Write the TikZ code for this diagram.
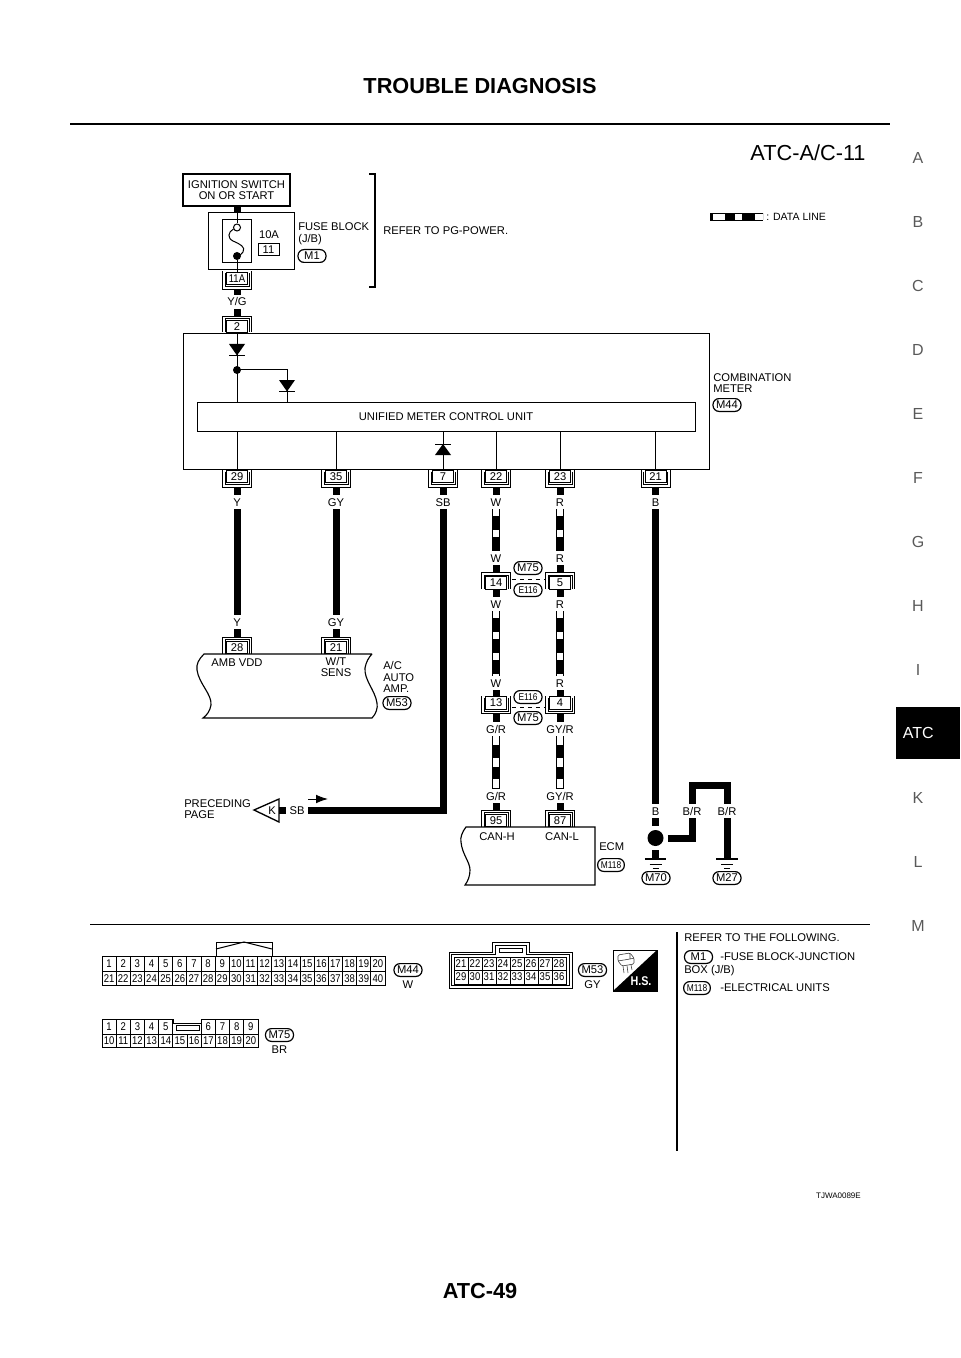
\documentclass[tikz,border=0pt]{standalone}
\usepackage{fontspec}
\setmainfont{Liberation Sans}
\newfontfamily\narrowfont[FakeStretch=.85]{Liberation Sans}
\usepackage{tikz}
\usetikzlibrary{arrows.meta}

\tikzset{
  wirelbl/.style={inner sep=0pt,minimum height=10.5pt,text height=6pt,text depth=0pt,font=\fontsize{8.4}{9}\selectfont},
  txt/.style={inner sep=0pt,align=left,anchor=west,font=\fontsize{8.4}{8.7}\selectfont},
  pinbox/.style={draw,fill=white,line width=.6pt,inner sep=0pt,minimum width=15.75pt,minimum height=9.4pt,font=\fontsize{8.4}{9}\selectfont},
  pill/.style={draw,line width=.9pt,rounded corners=4.5pt,inner sep=0pt,minimum width=21pt,minimum height=9.6pt,font=\fontsize{8.4}{9}\selectfont},
  smallpill/.style={pill,font=\narrowfont\fontsize{7.4}{8}\selectfont},
  wire/.style={line width=.75pt},
  hull/.style={line width=.6pt},
  heavy/.style={line width=5.25pt},
  dataline/.style 2 args={line width=5.25pt,dash pattern=on #1 off #2,dash phase=#1,
    preaction={draw,solid,line width=.75pt,double,double distance=3.9pt}},
  pin/.style={inner sep=0pt,font=\narrowfont\fontsize{8.4}{9}\selectfont},
  sideletter/.style={inner sep=0pt,text=black!65,font=\fontsize{12}{12}\selectfont}
}

% box with bracket open at the top, wire leaves below
\newcommand{\pinup}[4]{
  \node[pinbox] (#1) at (#2,#3) {#4};
  \draw[hull] ([shift={(-14.5,-7)}]#1.center) -- ++(0,17.5) -- ++(29,0) -- ++(0,-17.5);
  \draw[hull] ([shift={(-12,-5)}]#1.center) -- ++(0,13) -- ++(24,0) -- ++(0,-13);
  \coordinate (#1o) at ([yshift=-7.9pt]#1.center);
}
% box with bracket open at the bottom, wire comes in above
\newcommand{\pindn}[4]{
  \node[pinbox] (#1) at (#2,#3) {#4};
  \draw[hull] ([shift={(-14.5,6)}]#1.center) -- ++(0,-16.5) -- ++(29,0) -- ++(0,16.5);
  \draw[hull] ([shift={(-12,6)}]#1.center) -- ++(0,-14) -- ++(24,0) -- ++(0,14);
  \coordinate (#1o) at ([yshift=7.9pt]#1.center);
}

\begin{document}
\begin{tikzpicture}[x=.75pt,y=-.75pt]
\useasboundingbox (0,0) rectangle (960,1358);

% page furniture
\node[inner sep=0pt,font=\bfseries\fontsize{16.3}{17}\selectfont] (title) at (480,86) {TROUBLE DIAGNOSIS};
\coordinate (ruleL) at (70,124);
\coordinate (ruleR) at (890,124);
\draw[line width=1.9pt] (ruleL) -- (ruleR);
\node[inner sep=0pt,font=\bfseries\fontsize{16.3}{17}\selectfont] (pageno) at (480,1291) {ATC-49};
\node[inner sep=0pt,font=\fontsize{16.3}{17}\selectfont] (chartid) at (808,153) {ATC-A/C-11};
\foreach \ltr/\ypos in {A/158,B/222,C/286,D/350,E/414,F/478,G/542,H/606,I/670,K/798,L/862,M/926}
  \node[sideletter] (side\ltr) at (918,\ypos) {\ltr};
\node[fill=black,text=white,inner sep=0pt,minimum width=48pt,minimum height=39pt,font=\fontsize{12}{12}\selectfont] (tab) at (928,733) {\hspace*{-14.5pt}ATC};

% legend
\node[txt,font=\fontsize{7.9}{8}\selectfont] (ldata) at (766,217) {: DATA LINE};
\coordinate (lgA) at (710,217);
\coordinate (lgB) at (763,217);
\draw[line width=.75pt,double,double distance=3.9pt] (lgA) -- (lgB);
\draw[line width=5.25pt,dash pattern=on 2.25pt off 9pt on 7.5pt off 5.25pt on 9.75pt off 6pt] (lgA) -- (lgB);

% fuse block
\node[draw,line width=1pt,align=center,inner sep=0pt,minimum width=80.25pt,minimum height=24pt,font=\fontsize{8.4}{8.7}\selectfont] (ign) at (236.5,190) {IGNITION SWITCH\\ON OR START};
\node[draw,wire,minimum width=64.5pt,minimum height=42.75pt,inner sep=0pt] (fuseblk) at (251,241.5) {};
\node[draw,wire,minimum width=21.75pt,minimum height=32.25pt,inner sep=0pt] (fuseins) at (236.5,241.5) {};
\node[circle,draw,wire,fill=white,inner sep=0pt,minimum size=5.25pt] (fuseA) at (237,227.5) {};
\node[circle,fill=black,inner sep=0pt,minimum size=6pt] (fuseB) at (237,256) {};
\draw[wire] (233.5,229) .. controls (228,232) and (227,238) .. (233,241) .. controls (240,244) and (246,247) .. (243,252) .. controls (242,254) and (240,255) .. (238,256);
\draw[heavy] (ign.south -| fuseA) -- (fuseblk.north -| fuseA);
\draw[wire] (fuseblk.north -| fuseA) -- (fuseA.north);
\node[wirelbl] (famp) at (269,235) {10A};
\node[pinbox] (fnum) at (268.5,249.5) {11};
\node[txt] (fblk) at (298,234) {FUSE BLOCK\\(J/B)};
\node[pill] (pM1) at (312,256) {M1};
\coordinate (brA) at (369,174);
\coordinate (brB) at (369,287);
\draw[line width=.85pt] (brA) -- ++(6,0) -- ([xshift=4.5pt]brB) -- (brB);
\node[txt] (refpg) at (383,231) {REFER TO PG-POWER.};
\pinup{c11A}{237}{278.5}{\narrowfont 11A}
\draw[wire] (fuseB.south) -- (c11A.north);
\node[wirelbl] (lYG) at (237,302) {Y/G};
\draw[heavy] (c11Ao) -- (lYG.north);
\pindn{cII}{237}{326.5}{2}
\draw[heavy] (lYG.south) -- (cIIo);

% combination meter
\node[draw,wire,minimum width=394.5pt,minimum height=101.25pt,inner sep=0pt] (meter) at (446,401.5) {};
\node[draw,wire,minimum width=373.5pt,minimum height=21.75pt,inner sep=0pt,font=\fontsize{8.4}{9}\selectfont] (unit) at (446,416.5) {UNIFIED METER CONTROL UNIT};
\node[txt] (lmeter) at (713,383) {COMBINATION\\METER};
\node[pill] (pM44) at (727,405) {M44};
\node[circle,fill=black,inner sep=0pt,minimum size=6pt] (dotA) at (237,370) {};
\coordinate (brn) at (287,370);
\draw[wire] (cII.south) -- (unit.north -| cII);
\draw[wire] (dotA.center) -- (brn) -- (unit.north -| brn);
\fill (229,344) -- (245,344) -- (237,355.5) -- cycle;
\draw[wire] (229,355.5) -- (245,355.5);
\fill (279,380) -- (295,380) -- (287,391.5) -- cycle;
\draw[wire] (279,391.5) -- (295,391.5);
\fill (435,455) -- (451,455) -- (443,444) -- cycle;
\draw[wire] (435,444) -- (451,444);

\pinup{cA}{237}{476.5}{29}
\pinup{cB}{336}{476.5}{35}
\pinup{cC}{443}{476.5}{7}
\pinup{cD}{496}{476.5}{22}
\pinup{cE}{560}{476.5}{23}
\pinup{cF}{655.5}{476.5}{21}
\foreach \cn in {cA,cB,cC,cD,cE,cF}
  \draw[wire] (unit.south -| \cn) -- (\cn.north);

\foreach \cn/\tname/\tx in {cA/Y/237,cB/GY/336,cC/SB/443,cD/W/496,cE/R/560,cF/B/655.5}{
  \node[wirelbl] (l\tname) at (\tx,502) {\tname};
  \draw[heavy] (\cn o) -- (l\tname.north);
}

% amp
\node[wirelbl] (lY2) at (237,622) {Y};
\node[wirelbl] (lGY2) at (336,622) {GY};
\draw[heavy] (lY.south) -- (lY2.north);
\draw[heavy] (lGY.south) -- (lGY2.north);
\pindn{cG}{237}{647.5}{28}
\pindn{cH}{336}{647.5}{21}
\draw[heavy] (lY2.south) -- (cGo);
\draw[heavy] (lGY2.south) -- (cHo);
\draw[line width=.85pt] (372,654) -- (204,654) .. controls (199,659) and (196,664) .. (197,670) .. controls (199,684) and (212,694) .. (211,705) .. controls (210,711) and (207,715) .. (203,718) -- (372,718) .. controls (376,714) and (378,708) .. (377,703) .. controls (375,690) and (364,680) .. (365,668) .. controls (366,662) and (369,657) .. (372,654);
\node[wirelbl] (namb) at (237,662) {AMB VDD};
\node[inner sep=0pt,align=center,font=\fontsize{8.4}{8.7}\selectfont] (nwt) at (336,667) {W/T\\SENS};
\node[txt] (lamp) at (383,677) {A/C\\AUTO\\AMP.};
\node[pill] (pM53) at (397,703) {M53};

% CAN lines
\node[wirelbl] (lW2) at (496,558) {W};
\node[wirelbl] (lR2) at (560,558) {R};
\draw[dataline={10.5pt}{5.25pt}] (lW.south) -- (lW2.north);
\draw[dataline={10.5pt}{5.25pt}] (lR.south) -- (lR2.north);
\pindn{cJ}{496}{583}{14}
\pindn{cK}{560}{583}{5}
\draw[heavy] (lW2.south) -- (cJo);
\draw[heavy] (lR2.south) -- (cKo);
\draw[wire,dashed] ([shift={(5,-4)}]cJ.east) -- ([shift={(-5,-4)}]cK.west);
\node[pill] (pM75a) at (528,568) {M75};
\node[smallpill] (pE116a) at (528,590) {E116};
\node[wirelbl] (lW3) at (496,604) {W};
\node[wirelbl] (lR3) at (560,604) {R};
\draw[heavy] (cJ.south) -- (lW3.north);
\draw[heavy] (cK.south) -- (lR3.north);
\node[wirelbl] (lW4) at (496,683) {W};
\node[wirelbl] (lR4) at (560,683) {R};
\draw[dataline={10.5pt}{5.25pt}] (lW3.south) -- (lW4.north);
\draw[dataline={10.5pt}{5.25pt}] (lR3.south) -- (lR4.north);
\pinup{cL}{496}{703}{13}
\pinup{cM}{560}{703}{4}
\draw[heavy] (lW4.south) -- (cL.north);
\draw[heavy] (lR4.south) -- (cM.north);
\draw[wire,dashed] ([shift={(5,4)}]cL.east) -- ([shift={(-5,4)}]cM.west);
\node[smallpill] (pE116b) at (528,697) {E116};
\node[pill] (pM75b) at (528,718) {M75};
\node[wirelbl] (lGR) at (496,729) {G/R};
\node[wirelbl] (lGYR) at (560,729) {GY/R};
\draw[heavy] (cLo) -- (lGR.north);
\draw[heavy] (cMo) -- (lGYR.north);
\node[wirelbl] (lGR2) at (496,796) {G/R};
\node[wirelbl] (lGYR2) at (560,796) {GY/R};
\draw[dataline={9.4pt}{6.75pt}] (lGR.south) -- (lGR2.north);
\draw[dataline={9.4pt}{6.75pt}] (lGYR.south) -- (lGYR2.north);
\pindn{cN}{496}{820.5}{95}
\pindn{cO}{560}{820.5}{87}
\draw[heavy] (lGR2.south) -- (cNo);
\draw[heavy] (lGYR2.south) -- (cOo);
\draw[line width=.85pt] (595,827) -- (466,827) .. controls (462,832) and (460,838) .. (461,842) .. controls (462,854) and (470,862) .. (470,870) .. controls (470,876) and (468,881) .. (465,885) -- (595,885) -- cycle;
\node[wirelbl] (ncanh) at (497,836) {CAN-H};
\node[wirelbl] (ncanl) at (562,836) {CAN-L};
\node[txt] (lecm) at (599,847) {ECM};
\node[smallpill,minimum width=20pt] (pM118) at (611,865) {M118};

% preceding page
\node[txt] (lprec) at (184,809) {PRECEDING\\PAGE};
\draw[line width=1pt] (254,810) -- (279,799) -- (279,822) -- cycle;
\node[wirelbl] (lK) at (272,810) {K};
\coordinate (kbase) at (279,810);
\node[wirelbl,minimum width=15.75pt] (lSB2) at (297,810) {SB};
\draw[heavy] (kbase) -- (lSB2.west);
\draw[heavy] (lSB.south) |- (lSB2.east);
\coordinate (dirA) at (308,799);
\coordinate (dirB) at (328,799);
\draw[wire,-{Latex[length=9pt,width=6.5pt]}] (dirA) -- (dirB);

% grounds
\node[wirelbl] (lB2) at (655.5,811) {B};
\node[wirelbl] (lBRa) at (692,811) {B/R};
\node[wirelbl] (lBRb) at (727,811) {B/R};
\draw[heavy] (lB.south) -- (lB2.north);
\node[circle,fill=black,inner sep=0pt,minimum size=12pt] (dotG) at (655.5,838) {};
\coordinate (gndA) at (655.5,859);
\coordinate (gndB) at (727,859);
\coordinate (topBR) at (710,785);
\draw[heavy,shorten >=3pt] (lB2.south) -- (dotG.north);
\draw[heavy,shorten <=3pt] (dotG.south) -- (gndA);
\draw[heavy,shorten <=3pt] (dotG.east) -| (lBRa.south);
\draw[heavy] (lBRa.north) |- (topBR) -| (lBRb.north);
\draw[heavy] (lBRb.south) -- (gndB);
\foreach \gn in {gndA,gndB}{
  \draw[line width=1pt] ([xshift=-8pt]\gn) -- ([xshift=8pt]\gn);
  \draw[wire] ([shift={(-6,5)}]\gn) -- ([shift={(6,5)}]\gn);
  \draw[wire] ([shift={(-3,9)}]\gn) -- ([shift={(3,9)}]\gn);
}
\node[pill] (pM70) at (656,878) {M70};
\node[pill] (pM27) at (727,878) {M27};

% lower part
\coordinate (sepL) at (90,924);
\coordinate (sepR) at (870,924);
\draw[wire] (sepL) -- (sepR);
\coordinate (vsepA) at (677,932);
\coordinate (vsepB) at (677,1151);
\draw[line width=.95pt] (vsepA) -- (vsepB);

% connector M44
\draw[wire] (216,956) -- (216,942) -- (272,942) -- (272,956);
\draw[wire] (216,949) -- (244,942) -- (272,949);
\draw[line width=.7pt] (102,956) rectangle (385,985);
\draw[line width=.7pt] (102,971) -- (385,971);
\foreach \n in {1,...,20}{
  \pgfmathtruncatemacro{\nb}{\n+20}
  \node[pin] (Ma\n) at ({102+14.15*(\n-.5)},964) {\n};
  \node[pin] (Mb\nb) at ({102+14.15*(\n-.5)},978.5) {\nb};
  \draw[line width=.7pt] ({102+14.15*\n},956) -- ({102+14.15*\n},985);
}
\node[pill] (tM44) at (408,970) {M44};
\node[wirelbl] (tW) at (408,984) {W};

% connector M75
\draw[line width=.7pt] (102,1019) -- (173,1019) -- (173,1023) -- (201,1023) -- (201,1019) -- (258,1019) -- (258,1047) -- (102,1047) -- cycle;
\draw[line width=.7pt] (102,1034.5) -- (258,1034.5);
\draw[line width=.7pt] (176,1025) rectangle (199,1030);
\foreach \n in {1,...,5}{
  \node[pin] (Na\n) at ({102+14.18*(\n-.5)},1027) {\n};
  \draw[line width=.7pt] ({102+14.18*\n},1019) -- ({102+14.18*\n},1034.5);
}
\foreach \n in {6,...,9}{
  \node[pin] (Na\n) at ({102+14.18*(\n+1.5)},1027) {\n};
  \draw[line width=.7pt] ({102+14.18*(\n+1)},1019) -- ({102+14.18*(\n+1)},1034.5);
}
\foreach \n in {10,...,20}{
  \node[pin] (Nb\n) at ({102+14.18*(\n-9.5)},1041) {\n};
  \draw[line width=.7pt] ({102+14.18*(\n-9)},1034.5) -- ({102+14.18*(\n-9)},1047);
}
\node[pill] (tM75) at (279.5,1035) {M75};
\node[wirelbl] (tBR) at (279.5,1049) {BR};

% connector M53
\draw[wire] (449,952) -- (492,952) -- (492,942) -- (529,942) -- (529,952) -- (572,952) -- (572,988) -- (449,988) -- cycle;
\draw[wire] (451.5,954.5) -- (495,954.5) -- (495,945) -- (526,945) -- (526,954.5) -- (569.5,954.5) -- (569.5,985.5) -- (451.5,985.5) -- cycle;
\draw[line width=.7pt] (454,957) rectangle (566,984);
\draw[line width=.7pt] (454,970) -- (566,970);
\draw[line width=.7pt] (499,948) rectangle (522,952);
\foreach \n in {1,...,8}{
  \pgfmathtruncatemacro{\na}{\n+20}
  \pgfmathtruncatemacro{\nb}{\n+28}
  \node[pin] (Pa\na) at ({454+14*(\n-.5)},963.5) {\na};
  \node[pin] (Pb\nb) at ({454+14*(\n-.5)},977) {\nb};
  \draw[line width=.7pt] ({454+14*\n},957) -- ({454+14*\n},984);
}
\node[pill] (tM53) at (592.5,970) {M53};
\node[wirelbl] (tGY) at (592.5,984) {GY};

% H.S. mark
\draw[line width=.6pt] (613,950) rectangle (657,991);
\fill (657,950) -- (657,991) -- (613,991) -- cycle;
\node[inner sep=0pt,text=white,font=\bfseries\narrowfont\fontsize{9.5}{10}\selectfont] (hsmark) at (641,981) {H.S.};
\draw[line width=.45pt,black!75,rounded corners=1pt] (618,955) -- (630,953) -- (634,958) -- (634,964) -- (622,966) -- (618,961) -- cycle;
\draw[line width=.45pt,black!75] (618,961) -- (630,959) -- (634,958) (630,953) -- (630,959);
\draw[line width=.45pt,black!75] (623,966) -- (624,973) (627,965.5) -- (628,973) (631,965) -- (632,970);

% references
\node[txt] (rfol) at (684,938) {REFER TO THE FOLLOWING.};
\node[pill] (rM1) at (698.5,957) {M1};
\node[txt] (rfb) at (720,957) {-FUSE BLOCK-JUNCTION};
\node[txt] (rbox) at (684,971) {BOX (J/B)};
\node[smallpill,minimum width=20pt] (rM118) at (697,988) {M118};
\node[txt] (rel) at (720,988) {-ELECTRICAL UNITS};
\node[inner sep=0pt,anchor=east,font=\fontsize{6}{6}\selectfont] (figid) at (861,1196) {TJWA0089E};
\end{tikzpicture}
\end{document}
